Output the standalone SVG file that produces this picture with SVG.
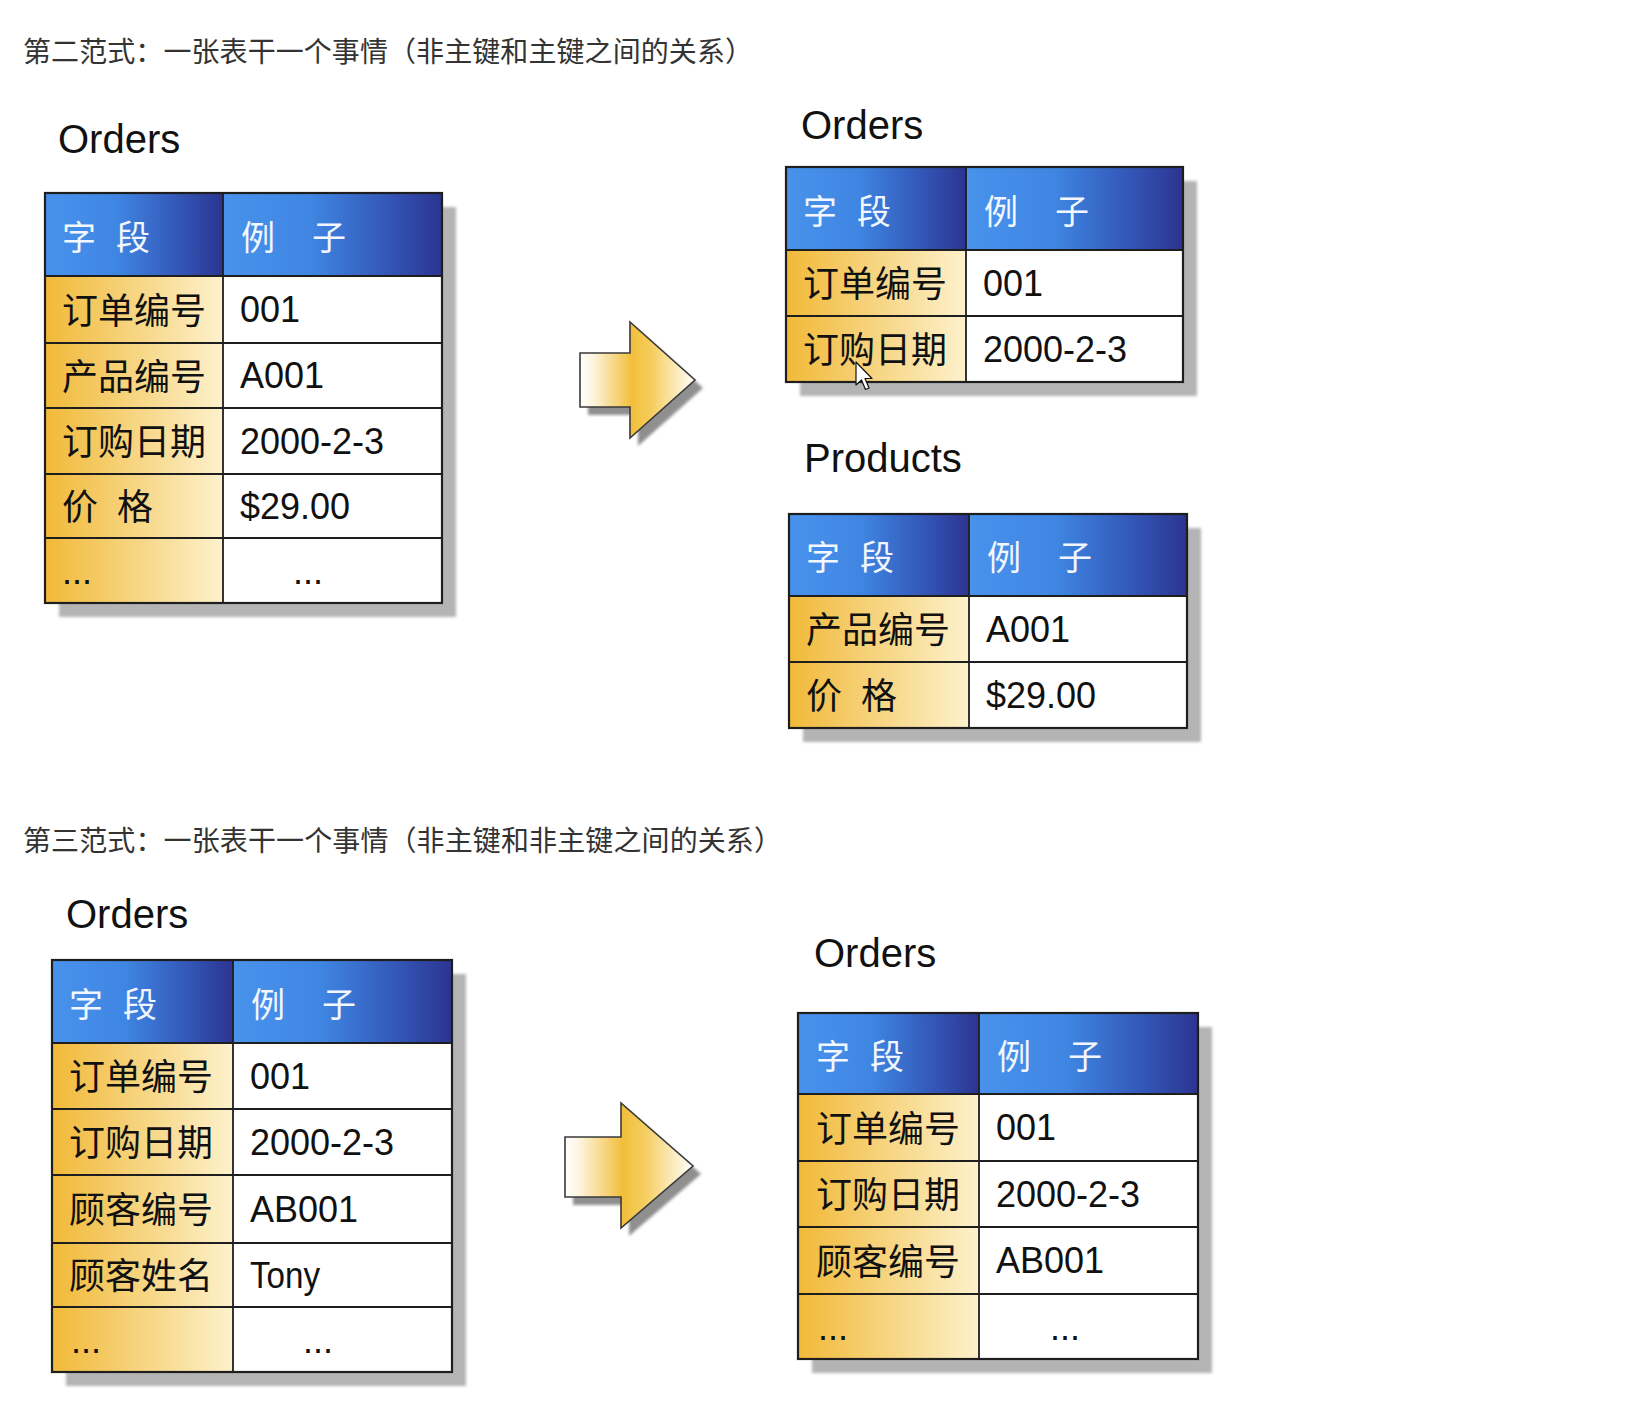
<svg xmlns="http://www.w3.org/2000/svg" width="1630" height="1408" viewBox="0 0 1630 1408">
<defs>
<style>
.title{font-family:"Noto Sans CJK SC","Noto Sans",sans-serif;font-size:28px;fill:#333}
.label{font-family:"Liberation Sans",Arial,sans-serif;font-size:40px;fill:#111}
.hdr{font-family:"Noto Sans CJK SC",sans-serif;font-size:34px;fill:#f2f7ff}
.fld{font-family:"Noto Sans CJK SC",sans-serif;font-size:36px;fill:#111}
.val{font-family:"Liberation Sans",Arial,sans-serif;font-size:36px;fill:#111}
.grid{stroke:#1e1e1e;stroke-width:1.8;fill:none}
.frame{stroke:#1e1e1e;stroke-width:2.2;fill:none}
.shadow{fill:#b4b4b4;filter:url(#blur)}
.hd{fill:url(#hdrGrad)}
.fc{fill:url(#fldGrad)}
.vc{fill:#fff}
.arrow{fill:url(#arrGrad);stroke:#3a3a3a;stroke-width:1.6}
.ashadow{fill:#8f8f8f;filter:url(#blur)}
</style>
<filter id="blur" x="-10%" y="-10%" width="120%" height="120%"><feGaussianBlur stdDeviation="1.8"/></filter>
<linearGradient id="hdrGrad" x1="0" y1="0" x2="1" y2="0">
<stop offset="0" stop-color="#4892ec"/>
<stop offset="0.4" stop-color="#3f86e2"/>
<stop offset="0.75" stop-color="#3357b8"/>
<stop offset="1" stop-color="#2c3490"/>
</linearGradient>
<linearGradient id="fldGrad" x1="0" y1="0" x2="1" y2="0">
<stop offset="0" stop-color="#f1b938"/>
<stop offset="0.45" stop-color="#f6d27a"/>
<stop offset="1" stop-color="#fdf1cc"/>
</linearGradient>
<linearGradient id="arrGrad" x1="0" y1="0" x2="1" y2="0">
<stop offset="0" stop-color="#ffffff"/>
<stop offset="0.12" stop-color="#fdf3dc"/>
<stop offset="0.45" stop-color="#f2bf3c"/>
<stop offset="0.62" stop-color="#f5cd5e"/>
<stop offset="1" stop-color="#ffffff"/>
</linearGradient>
</defs>
<rect width="1630" height="1408" fill="#fff"/>

<text class="title" x="23" y="62" textLength="730">第二范式：一张表干一个事情（非主键和主键之间的关系）</text>
<text class="title" x="23" y="851" textLength="759">第三范式：一张表干一个事情（非主键和非主键之间的关系）</text>

<!-- Table A -->
<g id="orders-2nf-before">
<text class="label" x="58" y="153">Orders</text>
<rect class="shadow" x="59" y="207" width="397" height="410"/>
<rect class="hd" x="45" y="193" width="178" height="83"/>
<rect class="hd" x="223" y="193" width="219" height="83"/>
<rect class="fc" x="45" y="276" width="178" height="327"/>
<rect class="vc" x="223" y="276" width="219" height="327"/>
<path class="grid" d="M45,276H442M45,343H442M45,408H442M45,474H442M45,538H442M223,193V603"/>
<rect class="frame" x="45" y="193" width="397" height="410"/>
<text class="hdr" y="250"><tspan x="62">字</tspan><tspan x="116">段</tspan><tspan x="241">例</tspan><tspan x="312">子</tspan></text>
<text class="fld" x="62" y="323.5">订单编号</text>
<text class="fld" x="62" y="389.5">产品编号</text>
<text class="fld" x="62" y="455">订购日期</text>
<text class="fld" y="520"><tspan x="62">价</tspan><tspan x="117">格</tspan></text>
<text class="val" x="62" y="584">...</text>
<text class="val" x="240" y="322">001</text>
<text class="val" x="240" y="388">A001</text>
<text class="val" x="240" y="453.5">2000-2-3</text>
<text class="val" x="240" y="518.5">$29.00</text>
<text class="val" x="293" y="584">...</text>
</g>

<!-- Table B -->
<g id="orders-2nf-after">
<text class="label" x="801" y="139">Orders</text>
<rect class="shadow" x="800" y="181" width="397" height="215"/>
<rect class="hd" x="786" y="167" width="180" height="83"/>
<rect class="hd" x="966" y="167" width="217" height="83"/>
<rect class="fc" x="786" y="250" width="180" height="132"/>
<rect class="vc" x="966" y="250" width="217" height="132"/>
<path class="grid" d="M786,250H1183M786,316H1183M966,167V382"/>
<rect class="frame" x="786" y="167" width="397" height="215"/>
<text class="hdr" y="223.5"><tspan x="803">字</tspan><tspan x="857">段</tspan><tspan x="984">例</tspan><tspan x="1055">子</tspan></text>
<text class="fld" x="803" y="297">订单编号</text>
<text class="fld" x="803" y="363">订购日期</text>
<text class="val" x="983" y="295.5">001</text>
<text class="val" x="983" y="361.5">2000-2-3</text>
<path d="M856,362 L856,385 L861.5,380 L865.5,389.5 L869,388 L865,378.5 L872,378.5 Z" fill="#fff" stroke="#111" stroke-width="1.2" stroke-linejoin="round"/>
</g>

<!-- Table C -->
<g id="products-2nf">
<text class="label" x="804" y="472">Products</text>
<rect class="shadow" x="803" y="528" width="398" height="214"/>
<rect class="hd" x="789" y="514" width="180" height="82"/>
<rect class="hd" x="969" y="514" width="218" height="82"/>
<rect class="fc" x="789" y="596" width="180" height="132"/>
<rect class="vc" x="969" y="596" width="218" height="132"/>
<path class="grid" d="M789,596H1187M789,662H1187M969,514V728"/>
<rect class="frame" x="789" y="514" width="398" height="214"/>
<text class="hdr" y="570"><tspan x="806">字</tspan><tspan x="860">段</tspan><tspan x="987">例</tspan><tspan x="1058">子</tspan></text>
<text class="fld" x="806" y="643">产品编号</text>
<text class="fld" y="709"><tspan x="806">价</tspan><tspan x="861">格</tspan></text>
<text class="val" x="986" y="641.5">A001</text>
<text class="val" x="986" y="707.5">$29.00</text>
</g>

<!-- Table D -->
<g id="orders-3nf-before">
<text class="label" x="66" y="928">Orders</text>
<rect class="shadow" x="66" y="974" width="400" height="412"/>
<rect class="hd" x="52" y="960" width="181" height="83"/>
<rect class="hd" x="233" y="960" width="219" height="83"/>
<rect class="fc" x="52" y="1043" width="181" height="329"/>
<rect class="vc" x="233" y="1043" width="219" height="329"/>
<path class="grid" d="M52,1043H452M52,1109H452M52,1175H452M52,1243H452M52,1307H452M233,960V1372"/>
<rect class="frame" x="52" y="960" width="400" height="412"/>
<text class="hdr" y="1016.5"><tspan x="69">字</tspan><tspan x="123">段</tspan><tspan x="251">例</tspan><tspan x="322">子</tspan></text>
<text class="fld" x="69" y="1090">订单编号</text>
<text class="fld" x="69" y="1156">订购日期</text>
<text class="fld" x="69" y="1223">顾客编号</text>
<text class="fld" x="69" y="1289">顾客姓名</text>
<text class="val" x="71" y="1353">...</text>
<text class="val" x="250" y="1088.5">001</text>
<text class="val" x="250" y="1154.5">2000-2-3</text>
<text class="val" x="250" y="1221.5">AB001</text>
<text class="val" x="250" y="1288" font-size="34" textLength="70" lengthAdjust="spacingAndGlyphs">Tony</text>
<text class="val" x="303" y="1353">...</text>
</g>

<!-- Table E -->
<g id="orders-3nf-after">
<text class="label" x="814" y="967">Orders</text>
<rect class="shadow" x="812" y="1027" width="400" height="346"/>
<rect class="hd" x="798" y="1013" width="181" height="81"/>
<rect class="hd" x="979" y="1013" width="219" height="81"/>
<rect class="fc" x="798" y="1094" width="181" height="265"/>
<rect class="vc" x="979" y="1094" width="219" height="265"/>
<path class="grid" d="M798,1094H1198M798,1161H1198M798,1227H1198M798,1294H1198M979,1013V1359"/>
<rect class="frame" x="798" y="1013" width="400" height="346"/>
<text class="hdr" y="1068.5"><tspan x="816">字</tspan><tspan x="870">段</tspan><tspan x="997">例</tspan><tspan x="1068">子</tspan></text>
<text class="fld" x="816" y="1141.5">订单编号</text>
<text class="fld" x="816" y="1208">订购日期</text>
<text class="fld" x="816" y="1274.5">顾客编号</text>
<text class="val" x="818" y="1340">...</text>
<text class="val" x="996" y="1140">001</text>
<text class="val" x="996" y="1206.5">2000-2-3</text>
<text class="val" x="996" y="1273">AB001</text>
<text class="val" x="1050" y="1340">...</text>
</g>

<g id="connectors">
<path class="ashadow" d="M588,361 L638,361 L638,330 L703,388 L638,446 L638,415 L588,415 Z"/>
<path class="arrow" d="M580,353 L630,353 L630,322 L695,380 L630,438 L630,407 L580,407 Z"/>
<path class="ashadow" d="M573,1145 L629,1145 L629,1111 L701,1174 L629,1236 L629,1205 L573,1205 Z"/>
<path class="arrow" d="M565,1137 L621,1137 L621,1103 L693,1166 L621,1228 L621,1197 L565,1197 Z"/>
</g>
</svg>
